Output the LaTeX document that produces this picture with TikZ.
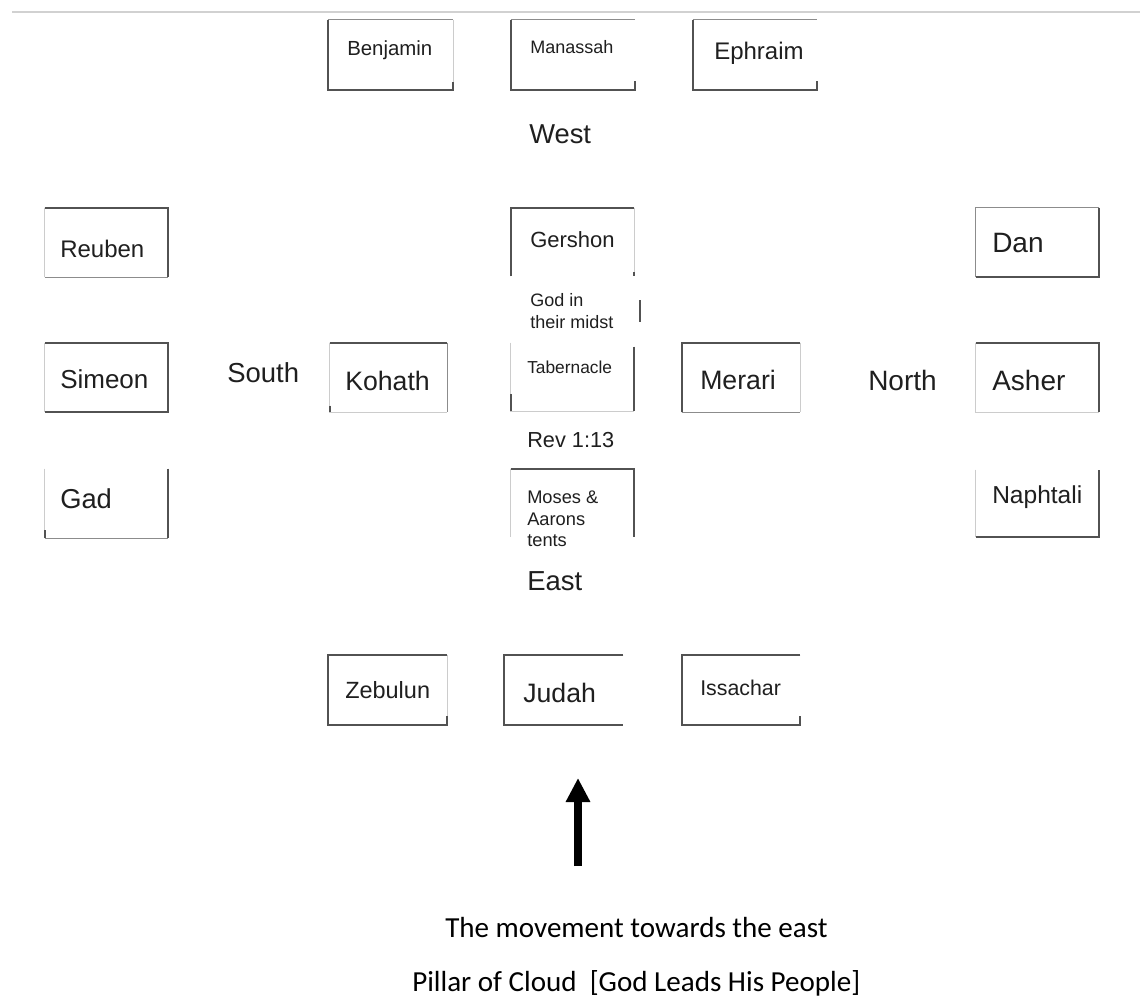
\documentclass[tikz,border=0pt]{standalone}
\usepackage{fontspec}
\setmainfont{Liberation Sans}
\newfontfamily\calib{Carlito}
\usetikzlibrary{arrows.meta}
\tikzset{
  boxn/.style={rectangle, inner sep=0pt, draw=none},
  dk/.style={line width=1.5pt, draw=black!68},
  md/.style={line width=1.1pt, draw=black!45},
  lt/.style={line width=0.75pt, draw=black!20},
  lbl/.style={anchor=base west, inner sep=0pt, text=black!88, font=\fontsize{#1}{#1}\selectfont},
  cal/.style={anchor=base west, inner sep=0pt, text=black, font=\calib\fontsize{#1}{#1}\selectfont},
}
\begin{document}
\begin{tikzpicture}[x=0.75pt, y=-0.75pt]
\useasboundingbox (0,0) rectangle (1140,999);
\fill[white] (0,0) rectangle (1140,999);

% top rule
\coordinate (ruleL) at (12,12);
\coordinate (ruleR) at (1140,12);
\draw[line width=1.5pt, black!18] (ruleL) -- (ruleR);

% ---------- boxes ----------
\node[boxn, minimum width=93.75pt, minimum height=52.5pt] (benjamin) at (390.5,55) {};
\node[boxn, minimum width=93pt, minimum height=52.5pt] (manassah) at (573,55) {};
\node[boxn, minimum width=93pt, minimum height=52.5pt] (ephraim) at (755,55) {};
\node[boxn, minimum width=92.25pt, minimum height=51.75pt] (reuben) at (106.5,242.5) {};
\node[boxn, minimum width=92.25pt, minimum height=51.75pt] (simeon) at (106.5,377.5) {};
\node[boxn, minimum width=92.25pt, minimum height=51.75pt] (gad) at (106.5,503.5) {};
\node[boxn, minimum width=92.25pt, minimum height=51pt] (gershon) at (572.5,242) {};
\node[boxn, minimum width=92.25pt, minimum height=51pt] (tabernacle) at (572.5,377) {};
\node[boxn, minimum width=92.25pt, minimum height=51pt] (moses) at (572.5,503) {};
\node[boxn, minimum width=87.75pt, minimum height=51.75pt] (kohath) at (388.5,377.5) {};
\node[boxn, minimum width=88.5pt, minimum height=51.75pt] (merari) at (741,377.5) {};
\node[boxn, minimum width=92.25pt, minimum height=51.75pt] (dan) at (1037.5,242.5) {};
\node[boxn, minimum width=92.25pt, minimum height=51.75pt] (asher) at (1037.5,377.5) {};
\node[boxn, minimum width=92.25pt, minimum height=50.25pt] (naphtali) at (1037.5,503.5) {};
\node[boxn, minimum width=89.25pt, minimum height=52.5pt] (zebulun) at (387.5,690) {};
\node[boxn, minimum width=89.25pt, minimum height=52.5pt] (judah) at (563.5,690) {};
\node[boxn, minimum width=88.5pt, minimum height=52.5pt] (issachar) at (741,690) {};

% ---------- box edges ----------
% Benjamin
\draw[md] (benjamin.north west) -- (benjamin.north east);
\draw[lt] (benjamin.north east) -- (benjamin.south east);
\draw[dk] (benjamin.north west) -- (benjamin.south west) -- (benjamin.south east) -- ([yshift=6pt]benjamin.south east);
% Manassah
\draw[md] (manassah.north west) -- (manassah.north east);
\draw[dk] (manassah.north west) -- (manassah.south west) -- (manassah.south east) -- ([yshift=7pt]manassah.south east);
% Ephraim
\draw[md] (ephraim.north west) -- (ephraim.north east);
\draw[dk] (ephraim.north west) -- (ephraim.south west) -- (ephraim.south east) -- ([yshift=7pt]ephraim.south east);
% Reuben
\draw[lt] (reuben.north west) -- (reuben.south west);
\draw[md] (reuben.south west) -- (reuben.south east);
\draw[dk] (reuben.north west) -- (reuben.north east) -- (reuben.south east);
% Simeon
\draw[lt] (simeon.north west) -- (simeon.south west);
\draw[dk] (simeon.south west) -- (simeon.south east) -- (simeon.north east) -- (simeon.north west);
% Gad
\draw[lt] (gad.north west) -- (gad.south west);
\draw[md] (gad.south west) -- (gad.south east);
\draw[dk] (gad.north east) -- (gad.south east);
\draw[dk] ([yshift=6pt]gad.south west) -- (gad.south west);
% Gershon
\draw[lt] (gershon.north east) -- (gershon.south east);
\draw[dk] (gershon.south west) -- (gershon.north west) -- (gershon.north east);
\draw[dk] ([yshift=3pt]gershon.south east) -- (gershon.south east);
% Tabernacle
\draw[lt] (tabernacle.north west) -- (tabernacle.south west) -- (tabernacle.south east);
\draw[dk] ([yshift=13pt]tabernacle.south west) -- (tabernacle.south west);
\draw[dk] ([yshift=-3pt]tabernacle.north east) -- (tabernacle.south east);
% Moses
\draw[lt] (moses.north west) -- (moses.south west);
\draw[dk] (moses.north west) -- (moses.north east) -- (moses.south east);
% Kohath
\draw[lt] (kohath.north west) -- (kohath.south west) -- (kohath.south east);
\draw[dk] ([yshift=5pt]kohath.south west) -- (kohath.south west);
\draw[md] (kohath.north east) -- (kohath.south east);
\draw[dk] (kohath.north west) -- (kohath.north east);
% Merari
\draw[lt] (merari.north east) -- (merari.south east);
\draw[md] (merari.south west) -- (merari.south east);
\draw[dk] (merari.south west) -- (merari.north west) -- (merari.north east);
% Dan
\draw[md] (dan.south west) -- (dan.north west) -- (dan.north east);
\draw[dk] (dan.north east) -- (dan.south east) -- (dan.south west);
% Asher
\draw[lt] (asher.north west) -- (asher.south west) -- (asher.south east);
\draw[dk] (asher.north west) -- (asher.north east) -- (asher.south east);
% Naphtali
\draw[lt] (naphtali.north west) -- (naphtali.south west);
\draw[dk] (naphtali.south west) -- (naphtali.south east) -- (naphtali.north east);
% Zebulun
\draw[lt] (zebulun.north east) -- (zebulun.south east);
\draw[dk] (zebulun.north east) -- (zebulun.north west) -- (zebulun.south west) -- (zebulun.south east) -- ([yshift=7pt]zebulun.south east);
% Judah
\draw[dk] (judah.north east) -- (judah.north west) -- (judah.south west) -- (judah.south east);
% Issachar
\draw[dk] (issachar.north east) -- (issachar.north west) -- (issachar.south west) -- (issachar.south east) -- ([yshift=7pt]issachar.south east);

% small stray bar beside "God in their midst"
\coordinate (barT) at (640,300);
\coordinate (barB) at (640,322);
\draw[dk] (barT) -- (barB);

% ---------- labels ----------
\node[lbl=15.3pt] (tBenjamin) at (347,56) {Benjamin};
\node[lbl=13.5pt] (tManassah) at (530,54) {Manassah};
\node[lbl=18pt] (tEphraim) at (714,60) {Ephraim};
\node[lbl=20.5pt] (tWest) at (529,144) {West};
\node[lbl=16.5pt] (tGershon) at (530,247) {Gershon};
\node[lbl=13.5pt] (tGod1) at (530,306) {God in};
\node[lbl=13.5pt] (tGod2) at (530,328) {their midst};
\node[lbl=13pt] (tTabernacle) at (527,373) {Tabernacle};
\node[lbl=16.3pt] (tRev) at (527,447) {Rev 1:13};
\node[lbl=13.7pt] (tMoses1) at (527,503) {Moses \&};
\node[lbl=13.7pt] (tMoses2) at (527,525) {Aarons};
\node[lbl=13.7pt] (tMoses3) at (527,546) {tents};
\node[lbl=20.6pt] (tEast) at (527,590) {East};
\node[lbl=18pt] (tReuben) at (60,257) {Reuben};
\node[lbl=19.5pt] (tSimeon) at (60,388) {Simeon};
\node[lbl=20.5pt] (tGad) at (60,508) {Gad};
\node[lbl=20.6pt] (tSouth) at (227,382) {South};
\node[lbl=20pt] (tKohath) at (345,390) {Kohath};
\node[lbl=20pt] (tMerari) at (700,389) {Merari};
\node[lbl=21pt] (tNorth) at (868,390) {North};
\node[lbl=21pt] (tDan) at (992,252) {Dan};
\node[lbl=21pt] (tAsher) at (992,390) {Asher};
\node[lbl=18.4pt] (tNaphtali) at (992,503) {Naphtali};
\node[lbl=17.6pt] (tZebulun) at (345,698) {Zebulun};
\node[lbl=20pt] (tJudah) at (523,702) {Judah};
\node[lbl=16pt] (tIssachar) at (700,695) {Issachar};

% ---------- arrow ----------
\coordinate (arrB) at (578,866);
\coordinate (arrT) at (578,778);
\draw[line width=6pt, black, -{Triangle[width=17.25pt,length=18pt]}] (arrB) -- (arrT);

% ---------- bottom captions ----------
\node[cal=21.8pt] (tMove) at (445,937) {The movement towards the east};
\node[cal=21.8pt] (tPillar) at (412,991) {Pillar of Cloud\ \ [God Leads His People]};
\end{tikzpicture}
\end{document}
